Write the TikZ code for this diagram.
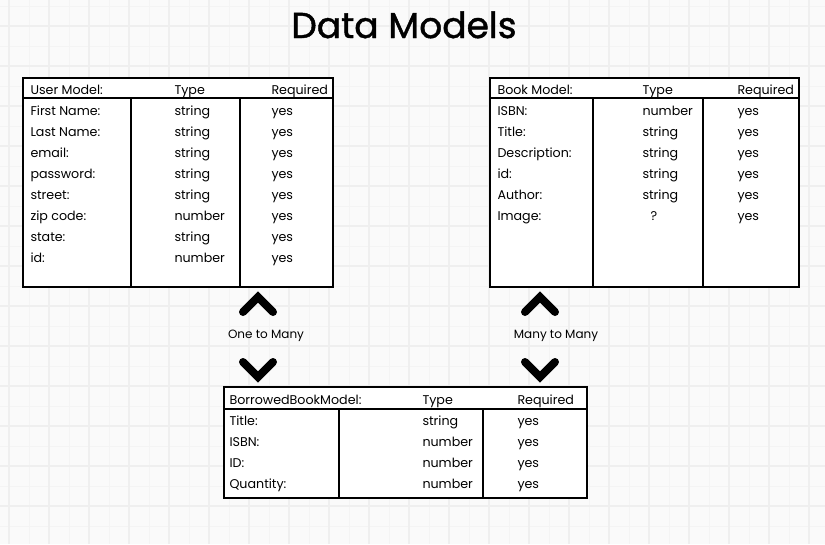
\documentclass[tikz,border=0pt]{standalone}
\usepackage{fontspec}
\setmainfont{Poppins}
\newfontfamily\titlefont[FakeBold=1.2]{Poppins}
\definecolor{paper}{RGB}{250,250,250}
\definecolor{gridmin}{RGB}{244,244,244}
\definecolor{gridmaj}{RGB}{239,239,239}
\tikzset{every picture/.style={line width=0.75pt}}

\begin{document}
\begin{tikzpicture}[x=0.75pt,y=0.75pt,yscale=-1,xscale=1,
	cell/.style={anchor=base west,inner sep=0pt,font=\fontsize{9.5}{11}\selectfont},
	link/.style={anchor=base,inner sep=0pt,font=\fontsize{9}{11}\selectfont},
	chevron/.style={line width=6pt,line cap=round,line join=miter},
	frame/.style={fill=white,line width=1.6}]
	\useasboundingbox (0,0) rectangle (825,544);

	%Background grid
	\fill [paper] (0,0) rectangle (825,544);
	\foreach \gx in {29,69,...,825} \draw [gridmin] (\gx,0) -- (\gx,544);
	\foreach \gy in {6,46,...,544} \draw [gridmin] (0,\gy) -- (825,\gy);
	\foreach \gx in {9,49,...,825} \draw [gridmaj,line width=1.5] (\gx,0) -- (\gx,544);
	\foreach \gy in {26,66,...,544} \draw [gridmaj,line width=1.5] (0,\gy) -- (825,\gy);

	% Text Node
	\draw (404,38) node [anchor=base,inner sep=0pt,font=\titlefont\fontsize{27}{30}\selectfont] (title) {Data Models};

	%Shape: Rectangle [User Model]
	\draw [frame] (23,78) rectangle (333,287);
	\draw [line width=1.6] (23,98) -- (333,98);
	\draw [line width=1.4] (131,98) -- (131,287);
	\draw [line width=1.4] (240,98) -- (240,287);

	%Shape: Rectangle [Book Model]
	\draw [frame] (490,78) rectangle (799,287);
	\draw [line width=1.6] (490,98) -- (799,98);
	\draw [line width=1.4] (593,98) -- (593,287);
	\draw [line width=1.4] (703,98) -- (703,287);

	%Shape: Rectangle [BorrowedBookModel]
	\draw [frame] (224,387) rectangle (587,498);
	\draw [line width=1.6] (224,409) -- (587,409);
	\draw [line width=1.4] (339,409) -- (339,498);
	\draw [line width=1.4] (483,409) -- (483,498);

	% Text Node [User Model]
	\draw (30,94) node [cell] (uhead) {User Model:};
	\draw (174,94) node [cell] (utype) {Type};
	\draw (271,94) node [cell] (ureq) {Required};
	\draw (30,115.5) node [cell] (ua) {First Name:};
	\draw (174,115.5) node [cell] (uat) {string};
	\draw (271,115.5) node [cell] (uar) {yes};
	\draw (30,136.5) node [cell] (ub) {Last Name:};
	\draw (174,136.5) node [cell] (ubt) {string};
	\draw (271,136.5) node [cell] (ubr) {yes};
	\draw (30,157.5) node [cell] (uc) {email:};
	\draw (174,157.5) node [cell] (uct) {string};
	\draw (271,157.5) node [cell] (ucr) {yes};
	\draw (30,178.5) node [cell] (ud) {password:};
	\draw (174,178.5) node [cell] (udt) {string};
	\draw (271,178.5) node [cell] (udr) {yes};
	\draw (30,199.5) node [cell] (ue) {street:};
	\draw (174,199.5) node [cell] (uet) {string};
	\draw (271,199.5) node [cell] (uer) {yes};
	\draw (30,220.5) node [cell] (uf) {zip code:};
	\draw (174,220.5) node [cell] (uft) {number};
	\draw (271,220.5) node [cell] (ufr) {yes};
	\draw (30,241.5) node [cell] (ug) {state:};
	\draw (174,241.5) node [cell] (ugt) {string};
	\draw (271,241.5) node [cell] (ugr) {yes};
	\draw (30,262.5) node [cell] (uh) {id:};
	\draw (174,262.5) node [cell] (uht) {number};
	\draw (271,262.5) node [cell] (uhr) {yes};

	% Text Node [Book Model]
	\draw (497,94) node [cell] (bhead) {Book Model:};
	\draw (642,94) node [cell] (btype) {Type};
	\draw (737,94) node [cell] (breq) {Required};
	\draw (497,115.5) node [cell] (ba) {ISBN:};
	\draw (642,115.5) node [cell] (bat) {number};
	\draw (737,115.5) node [cell] (bar) {yes};
	\draw (497,136.5) node [cell] (bb) {Title:};
	\draw (642,136.5) node [cell] (bbt) {string};
	\draw (737,136.5) node [cell] (bbr) {yes};
	\draw (497,157.5) node [cell] (bc) {Description:};
	\draw (642,157.5) node [cell] (bct) {string};
	\draw (737,157.5) node [cell] (bcr) {yes};
	\draw (497,178.5) node [cell] (bd) {id:};
	\draw (642,178.5) node [cell] (bdt) {string};
	\draw (737,178.5) node [cell] (bdr) {yes};
	\draw (497,199.5) node [cell] (be) {Author:};
	\draw (642,199.5) node [cell] (bet) {string};
	\draw (737,199.5) node [cell] (ber) {yes};
	\draw (497,220.5) node [cell] (bf) {Image:};
	\draw (650,220.5) node [cell] (bft) {?};
	\draw (737,220.5) node [cell] (bfr) {yes};

	% Text Node [BorrowedBookModel]
	\draw (229,404) node [cell] (rhead) {BorrowedBookModel:};
	\draw (422,404) node [cell] (rtype) {Type};
	\draw (517,404) node [cell] (rreq) {Required};
	\draw (229,425) node [cell] (ra) {Title:};
	\draw (422,425) node [cell] (rat) {string};
	\draw (517,425) node [cell] (rar) {yes};
	\draw (229,446) node [cell] (rb) {ISBN:};
	\draw (422,446) node [cell] (rbt) {number};
	\draw (517,446) node [cell] (rbr) {yes};
	\draw (229,467) node [cell] (rc) {ID:};
	\draw (422,467) node [cell] (rct) {number};
	\draw (517,467) node [cell] (rcr) {yes};
	\draw (229,488) node [cell] (rd) {Quantity:};
	\draw (422,488) node [cell] (rdt) {number};
	\draw (517,488) node [cell] (rdr) {yes};

	%Chevrons [One to Many]
	\draw [chevron] (243,312) -- (258,297) -- (273,312);
	\draw [chevron] (243,362) -- (258,377) -- (273,362);
	\draw (266,338) node [link] (onemany) {One to Many};

	%Chevrons [Many to Many]
	\draw [chevron] (525,312) -- (540,297) -- (555,312);
	\draw [chevron] (525,362) -- (540,377) -- (555,362);
	\draw (556,338) node [link] (manymany) {Many to Many};

\end{tikzpicture}
\end{document}
